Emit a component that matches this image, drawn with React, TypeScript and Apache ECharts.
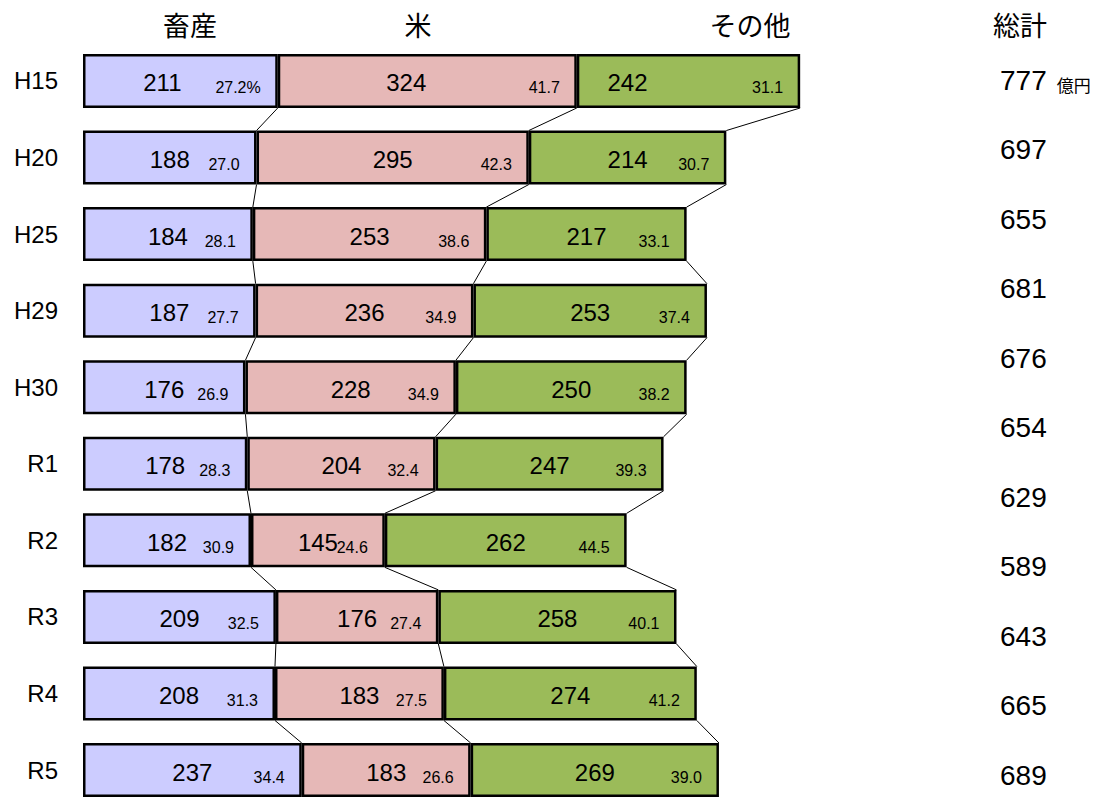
import React, { useEffect, useRef } from "react";
import * as echarts from "echarts";

const years = ["H15", "H20", "H25", "H29", "H30", "R1", "R2", "R3", "R4", "R5"];
const seriesNames = ["畜産", "米", "その他"];
const livestock = [211, 188, 184, 187, 176, 178, 182, 209, 208, 237];
const rice = [324, 295, 253, 236, 228, 204, 145, 176, 183, 183];
const other = [242, 214, 217, 253, 250, 247, 262, 258, 274, 269];
const livestockPct = ["27.2%", "27.0", "28.1", "27.7", "26.9", "28.3", "30.9", "32.5", "31.3", "34.4"];
const ricePct = ["41.7", "42.3", "38.6", "34.9", "34.9", "32.4", "24.6", "27.4", "27.5", "26.6"];
const otherPct = ["31.1", "30.7", "33.1", "37.4", "38.2", "39.3", "44.5", "40.1", "41.2", "39.0"];
const totalHeader = "総計";
const totals = [777, 697, 655, 681, 676, 654, 629, 589, 643, 665, 689];
const totalUnit = "億円";

const colors = ["#ccccff", "#e6b8b7", "#9bbb59"];
const NUM_FONT = '"Liberation Sans", Arial, sans-serif';
const CJK_FONT = '"Noto Sans CJK JP", sans-serif';
const BAR_W = 54;
// first row value labels sit a little left of centre in the original
const firstRowNudge = [-18, -21, -61];

export default function App() {
  const ref = useRef<HTMLDivElement>(null);
  useEffect(() => {
    if (!ref.current) return;
    const chart = echarts.init(ref.current, undefined, { renderer: "svg" });
    const values = [livestock, rice, other];
    const pcts = [livestockPct, ricePct, otherPct];
    const cum = (k: number, i: number) => {
      let s = 0;
      for (let j = 0; j <= k; j++) s += values[j][i];
      return s;
    };
    const lineData: number[][] = [];
    for (let i = 0; i < years.length - 1; i++) {
      for (let k = 0; k < 3; k++) lineData.push([cum(k, i), i, cum(k, i + 1), k]);
    }
    const pctData: number[][] = [];
    for (let i = 0; i < years.length; i++) {
      for (let k = 0; k < 3; k++) pctData.push([cum(k, i), i, k]);
    }

    const barSeries = values.map((arr, k) => ({
      name: seriesNames[k],
      type: "bar",
      stack: "total",
      barWidth: BAR_W,
      xAxisIndex: 0,
      yAxisIndex: 0,
      itemStyle: { color: colors[k], borderColor: "#000", borderWidth: 2.5 },
      label: {
        show: true,
        position: "inside",
        offset: [0, 2],
        color: "#000",
        fontSize: 24,
        fontFamily: NUM_FONT,
        formatter: "{c}",
      },
      data: arr.map((v, i) =>
        i === 0 ? { value: v, label: { offset: [firstRowNudge[k], 2] } } : v
      ),
      z: 2,
    }));

    const headerX = [190, 418, 750];
    const option: any = {
      animation: false,
      backgroundColor: "#fff",
      grid: [
        { left: 83, top: 42.7, width: 923, height: 765.6 },
        { left: 1000, top: 45.25, width: 50, height: 764.5 },
      ],
      xAxis: [
        { type: "value", gridIndex: 0, min: 0, max: 1000, show: false },
        { type: "value", gridIndex: 1, min: 0, max: 1, show: false },
      ],
      yAxis: [
        {
          type: "category",
          gridIndex: 0,
          inverse: true,
          data: years,
          axisLine: { show: false },
          axisTick: { show: false },
          splitLine: { show: false },
          axisLabel: { color: "#000", fontSize: 24, fontFamily: NUM_FONT, margin: 25 },
        },
        {
          type: "category",
          gridIndex: 1,
          inverse: true,
          data: totals.map((t, i) => String(i)),
          show: false,
        },
      ],
      graphic: [
        ...seriesNames.map((n, k) => ({
          type: "text",
          x: headerX[k],
          y: 24,
          style: { text: n, fill: "#000", font: `27px ${CJK_FONT}`, align: "center", verticalAlign: "middle" },
        })),
        {
          type: "text",
          x: 1020,
          y: 24,
          style: { text: totalHeader, fill: "#000", font: `27px ${CJK_FONT}`, align: "center", verticalAlign: "middle" },
        },
      ],
      series: [
        ...barSeries,
        {
          type: "custom",
          xAxisIndex: 0,
          yAxisIndex: 0,
          z: 1,
          encode: { x: 0, y: 1 },
          data: lineData,
          renderItem: (params: any, api: any) => {
            const p0 = api.coord([api.value(0), api.value(1)]);
            const p1 = api.coord([api.value(2), api.value(1) + 1]);
            return {
              type: "line",
              shape: { x1: p0[0], y1: p0[1] + BAR_W / 2, x2: p1[0], y2: p1[1] - BAR_W / 2 },
              style: { stroke: "#000", lineWidth: 1 },
            };
          },
        },
        {
          type: "custom",
          xAxisIndex: 0,
          yAxisIndex: 0,
          z: 5,
          encode: { x: 0, y: 1 },
          data: pctData,
          renderItem: (params: any, api: any) => {
            const i = api.value(1);
            const k = api.value(2);
            const p = api.coord([api.value(0), i]);
            return {
              type: "text",
              x: p[0] - 17,
              y: p[1] + 7,
              style: {
                text: pcts[k][i],
                fill: "#000",
                font: `16px ${NUM_FONT}`,
                align: "right",
                verticalAlign: "middle",
              },
            };
          },
        },
        {
          type: "scatter",
          xAxisIndex: 1,
          yAxisIndex: 1,
          symbolSize: 0,
          itemStyle: { opacity: 1 },
          data: totals.map((t, i) => [0, i]),
          label: {
            show: true,
            position: "right",
            distance: 0,
            color: "#000",
            fontSize: 28,
            fontFamily: NUM_FONT,
            formatter: (p: any) =>
              p.dataIndex === 0 ? `${totals[0]}{u|${totalUnit}}` : String(totals[p.dataIndex]),
            rich: {
              u: {
                fontSize: 17,
                fontFamily: CJK_FONT,
                color: "#000",
                padding: [8, 0, 0, 10],
              },
            },
          },
          emphasis: { disabled: true },
        },
      ],
    };
    chart.setOption(option);
    return () => chart.dispose();
  }, []);
  return (
    <div
      ref={ref}
      style={{ position: "fixed", left: 0, top: 0, width: 1102, height: 830, background: "#fff" }}
    />
  );
}
